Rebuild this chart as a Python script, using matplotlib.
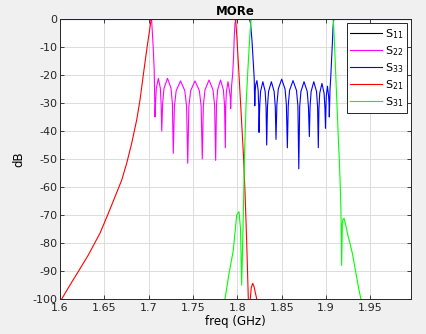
import matplotlib
matplotlib.use("Agg")
import matplotlib.pyplot as plt

# ---- data (freq in GHz, magnitude in dB) ----
s11_f = [1.6000, 1.9957]
s11_db = [0, 0]

s22_f = [1.6000, 1.6986, 1.7033, 1.7049, 1.7062, 1.7071,
         1.7077, 1.7086, 1.7109, 1.7131, 1.7140, 1.7147,
         1.7157, 1.7173, 1.7212, 1.7251, 1.7267, 1.7277,
         1.7290, 1.7310, 1.7359, 1.7407, 1.7427, 1.7440,
         1.7453, 1.7473, 1.7522, 1.7571, 1.7591, 1.7604,
         1.7616, 1.7635, 1.7680, 1.7725, 1.7743, 1.7755,
         1.7764, 1.7777, 1.7810, 1.7842, 1.7855, 1.7864,
         1.7868, 1.7876, 1.7894, 1.7912, 1.7920, 1.7924,
         1.7934, 1.7947, 1.7956, 1.7965, 1.7973, 1.7984, 1.9957]
s22_db = [0, -0.05, -0.5, -9, -18, -35,
          -30.2, -24.7, -21.2, -24.7, -30.2, -40,
          -30.2, -24.7, -21.2, -24.7, -30.2, -48,
          -31.1, -25.6, -22.1, -25.6, -31.1, -51.5,
          -31.1, -25.6, -22.1, -25.6, -31.1, -50,
          -30.8, -25.3, -21.8, -25.3, -30.8, -50.5,
          -30.8, -25.3, -21.8, -25.3, -30.8, -46,
          -31.4, -25.9, -22.4, -25.9, -28, -32,
          -24, -19.5, -14, -6, -1.5, -0.1, 0]

s33_f = [1.6000, 1.8136, 1.8148, 1.8165, 1.8178, 1.8189, 1.8196,
         1.8200, 1.8206, 1.8220, 1.8234, 1.8240, 1.8244,
         1.8251, 1.8261, 1.8287, 1.8313, 1.8323, 1.8330,
         1.8339, 1.8351, 1.8383, 1.8414, 1.8427, 1.8435,
         1.8445, 1.8461, 1.8499, 1.8537, 1.8552, 1.8563,
         1.8573, 1.8588, 1.8627, 1.8666, 1.8682, 1.8692,
         1.8702, 1.8716, 1.8751, 1.8787, 1.8801, 1.8811,
         1.8819, 1.8831, 1.8861, 1.8892, 1.8904, 1.8912,
         1.8919, 1.8928, 1.8953, 1.8977, 1.8987, 1.8993,
         1.8997, 1.9002, 1.9015, 1.9028, 1.9033, 1.9036,
         1.9044, 1.9052, 1.9061, 1.9070, 1.9078, 1.9085, 1.9095, 1.9957]
s33_db = [0, -0.1, -1.5, -8, -15, -21, -31,
          -26, -23.5, -22, -25.5, -31, -40.5,
          -31.4, -25.9, -22.4, -25.9, -31.4, -45,
          -31.4, -25.9, -22.4, -25.9, -31.4, -43,
          -30.5, -25, -21.5, -25, -30.5, -46,
          -31, -25.5, -22, -25.5, -31, -53.5,
          -31.4, -25.9, -22.4, -25.9, -31.4, -42,
          -31.4, -25.9, -22.4, -25.9, -31.4, -46,
          -32, -26.5, -23, -26.5, -32, -39,
          -33, -27.5, -24, -27.5, -30, -35,
          -25, -21, -15, -9, -3, -0.4, 0, 0]

s21_f = [1.6000, 1.6019, 1.6113, 1.6206, 1.6319, 1.6451, 1.6545, 1.6620,
         1.6696, 1.6752, 1.6808, 1.6865, 1.6902,
         1.6939, 1.6982, 1.7026, 1.7040, 1.7500, 1.7965, 1.7981, 1.7995,
         1.8018, 1.8041, 1.8067, 1.8086, 1.8105, 1.8123, 1.8134, 1.8145,
         1.8156, 1.8172, 1.8187, 1.8204, 1.8218, 1.8232, 1.8255, 1.9957]
s21_db = [-101.5, -100, -95, -90.2, -84.3, -76.5, -69.4, -63.5,
          -57.5, -51.5, -44.4, -36, -28.9,
          -20, -10, -0.5, -0.05, -0.02, -0.1, -0.5, -7,
          -20, -33, -48, -62, -80, -100, -108, -100,
          -96, -94.4, -95.5, -98, -100, -106, -115, -130]

s31_f = [1.6000, 1.7804, 1.7860, 1.7905, 1.7954, 1.7992, 1.8018, 1.8035,
         1.8048, 1.8063, 1.8080, 1.8097, 1.8120, 1.8142, 1.8153, 1.8165,
         1.8600, 1.9060, 1.9078, 1.9083, 1.9100, 1.9119, 1.9137, 1.9151,
         1.9162, 1.9168, 1.9175, 1.9183, 1.9190, 1.9202, 1.9224, 1.9247,
         1.9269, 1.9298, 1.9326, 1.9360, 1.9390, 1.9405, 1.9957]
s31_db = [-130, -115, -100, -91, -82.5, -70, -68.8, -75,
          -95, -75, -49, -31, -17, -5, -0.5, -0.05,
          -0.02, -0.05, -0.3, -1, -13, -28, -42, -52,
          -62, -69.4, -88, -73, -71.5, -71.2, -74, -77.5,
          -80.1, -84, -89, -95, -99.8, -103, -130]

labels = ["S$_{11}$", "S$_{22}$", "S$_{33}$", "S$_{21}$", "S$_{31}$"]
colors = ["#000000", "#ff00ff", "#0000ff", "#ff0000", "#00ff00"]
xticks = [1.6, 1.65, 1.7, 1.75, 1.8, 1.85, 1.9, 1.95]
xticklabels = ["1.6", "1.65", "1.7", "1.75", "1.8", "1.85", "1.9", "1.95"]
yticks = [-100, -90, -80, -70, -60, -50, -40, -30, -20, -10, 0]

plt.rcParams['axes.unicode_minus'] = False
plt.rcParams['font.family'] = ['DejaVu Sans']

fig = plt.figure(figsize=(4.27, 3.34), dpi=100, facecolor="#f0f0f0")
ax = fig.add_axes([60/427, 35/334, 351/427, 280/334])
ax.set_facecolor("white")

series = [(s11_f, s11_db), (s22_f, s22_db), (s33_f, s33_db), (s21_f, s21_db), (s31_f, s31_db)]
for (f, d), lab, c in zip(series, labels, colors):
    ax.plot(f, d, color=c, lw=0.8, label=lab)

ax.set_xlim(1.6, 1.9957)
ax.set_ylim(-100, 0)
ax.set_xticks(xticks)
ax.set_xticklabels(xticklabels)
ax.set_yticks(yticks)
ax.grid(True, color="#dcdcdc", lw=0.7)
ax.set_axisbelow(True)
ax.tick_params(direction="in", top=True, right=True, length=3, width=0.6,
               labelsize=8, colors="#262626", pad=2)
ax.tick_params(axis="x", pad=3)
for sp in ax.spines.values():
    sp.set_color("#262626")
    sp.set_linewidth(0.7)

ax.set_title("MORe", fontsize=8.5, fontweight="bold", pad=3)
ax.set_xlabel("freq (GHz)", fontsize=8.5, labelpad=1)
ax.set_ylabel("dB", fontsize=8.5, labelpad=5)

leg = ax.legend(loc="upper right", fontsize=8, handlelength=2.8, handletextpad=0.3,
                labelspacing=0.3, borderpad=0.35, borderaxespad=0.35,
                fancybox=False, framealpha=1, edgecolor="#262626")
leg.get_frame().set_linewidth(0.7)

fig.savefig("out.png", dpi=100, facecolor=fig.get_facecolor())
